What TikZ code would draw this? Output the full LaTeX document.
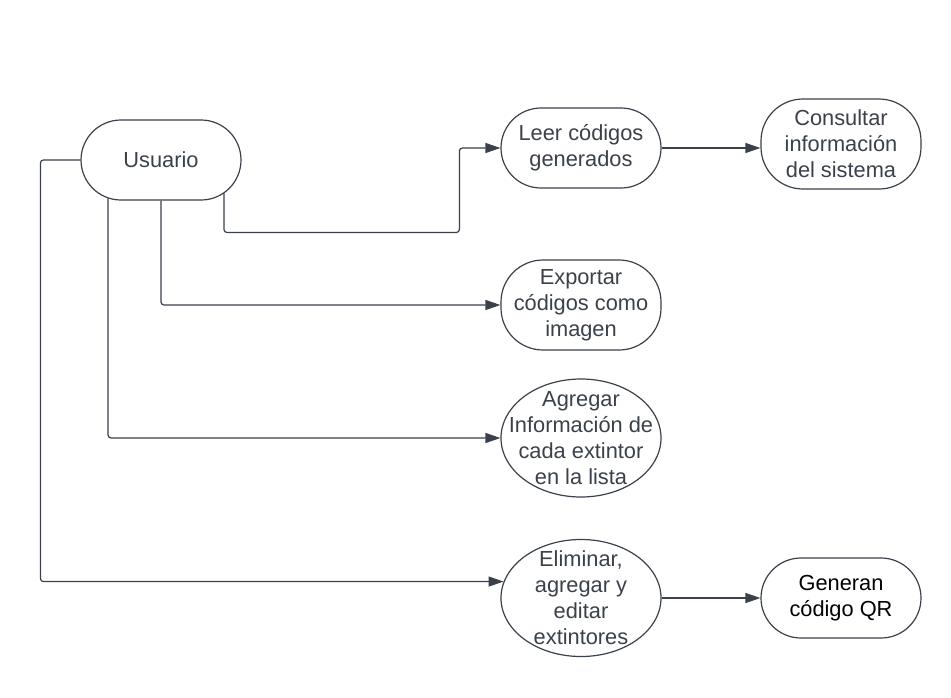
\documentclass[tikz,border=0pt]{standalone}
\usepackage{fontspec}
\setmainfont{Liberation Sans}
\usepackage{tikz}
\usetikzlibrary{arrows.meta, shapes.misc, shapes.geometric}
\definecolor{lineclr}{RGB}{58,65,74}

\begin{document}
\begin{tikzpicture}[x=1pt, y=-1pt,
    every node/.style={font=\fontsize{21.8}{26}\selectfont, text=lineclr, align=center, inner sep=0pt},
    pill/.style={rounded rectangle, draw=lineclr, line width=1.2pt, minimum width=160pt, minimum height=80pt},
    widepill/.style={rectangle, rounded corners=42pt, draw=lineclr, line width=1.2pt, minimum width=160pt, minimum height=90pt},
    oval/.style={ellipse, draw=lineclr, line width=1.2pt, inner xsep=-16pt, inner ysep=-12pt, minimum width=160pt, minimum height=118pt},
    conn/.style={draw=lineclr, line width=1.2pt, rounded corners=3pt, -{Triangle[length=15pt,width=10pt]}}]
                        \useasboundingbox (0,0) rectangle (951,697);
                        \node[pill] (usuario) at (161,160) {Usuario};
                        \node[pill] (leer) at (581,148) {Leer códigos\\generados};
                        \node[widepill] (consult) at (841,144) {Consultar\\información\\del sistema};
                        \node[widepill] (export) at (581,305) {Exportar\\códigos como\\imagen};
                        \node[oval] (agreg) at (581,438) {Agregar\\Información de\\cada extintor\\en la lista};
                        \node[oval, minimum height=117pt] (elim) at (581,598) {Eliminar,\\agregar y\\editar\\extintores};
                        \node[pill, text=black] (gen) at (841,598) {Generan\\código QR};
                        \draw[conn] (usuario.-28) -- ++(0,39) -| ([xshift=-41pt]leer.west) -- (leer.west);
                        \draw[conn] (usuario.south) |- (export.west);
                        \draw[conn] (usuario.216) |- (agreg.west);
                        \draw[conn] (usuario.west) -- ++(-40,0) |- (elim.168);
                        \draw[conn] (leer.east) -- (leer.east -| consult.west);
                        \draw[conn] (elim.east) -- (gen.west);
                \end{tikzpicture}
\end{document}
